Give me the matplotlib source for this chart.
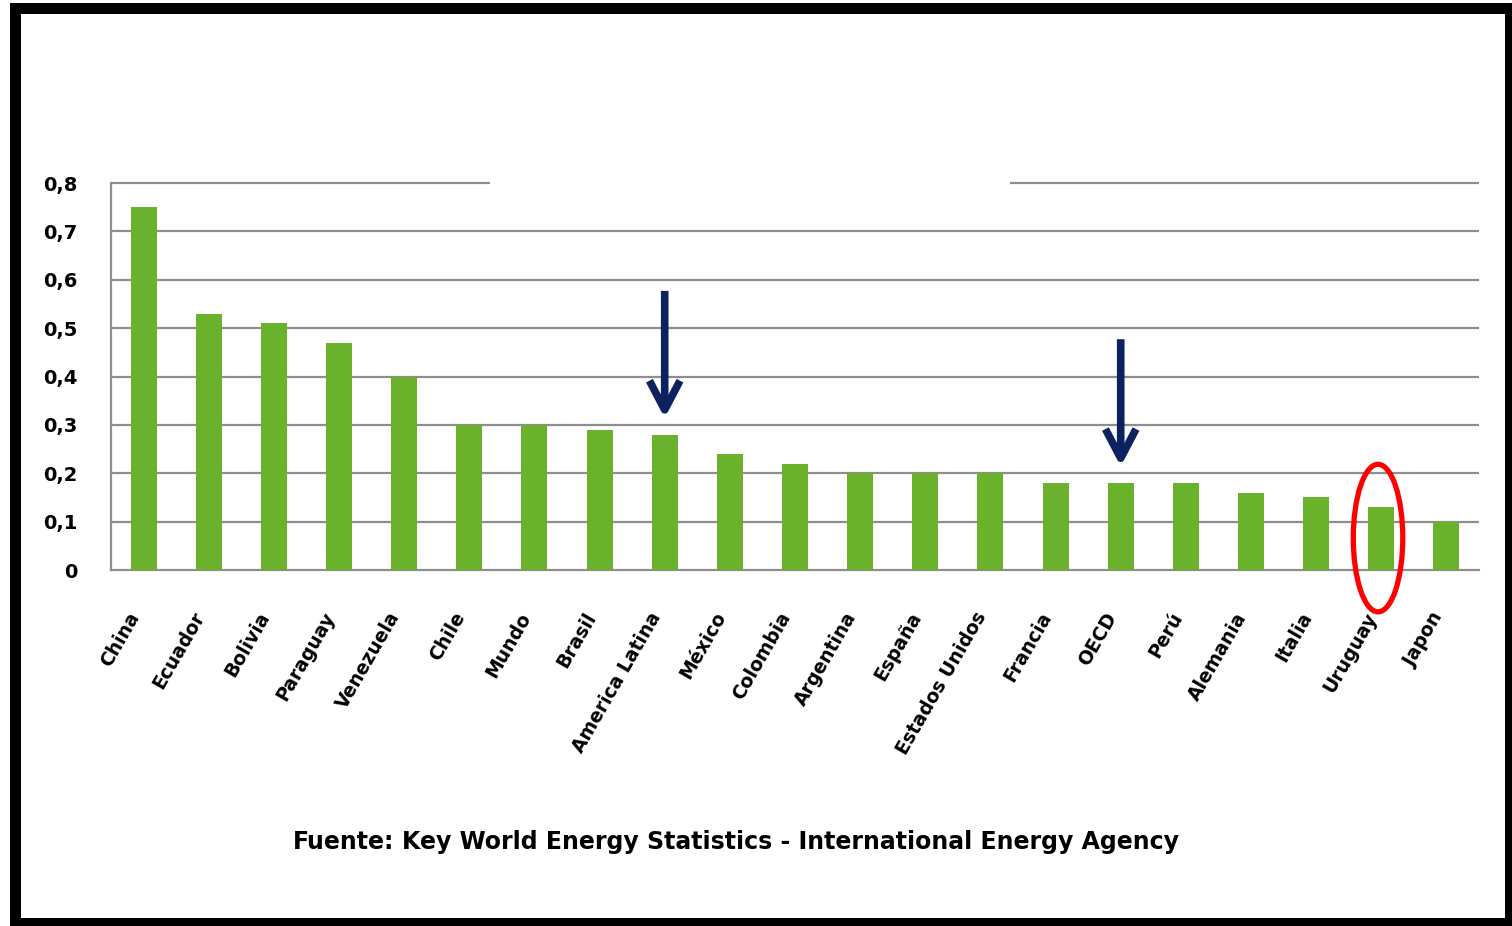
import matplotlib

matplotlib.use('Agg')
import matplotlib.pyplot as plt
import matplotlib.ticker as mticker
from matplotlib.patches import Ellipse, Rectangle

# --- Datos ---
paises = ["China", "Ecuador", "Bolivia", "Paraguay", "Venezuela", "Chile", "Mundo",
          "Brasil", "America Latina", "México", "Colombia", "Argentina", "España",
          "Estados Unidos", "Francia", "OECD", "Perú", "Alemania", "Italia",
          "Uruguay", "Japon"]
valores = [0.75, 0.53, 0.51, 0.47, 0.40, 0.30, 0.30, 0.29, 0.28, 0.24, 0.22,
           0.20, 0.20, 0.20, 0.18, 0.18, 0.18, 0.16, 0.15, 0.13, 0.10]
y_ticks = [0, 0.1, 0.2, 0.3, 0.4, 0.5, 0.6, 0.7, 0.8]
fuente = "Key World Energy Statistics - International Energy Agency"

# países señalados
flechas = ["America Latina", "OECD"]
resaltado = "Uruguay"

# --- Estilo ---
VERDE = "#6ab22b"
GRIS = "#8e8e8e"
AZUL = "#0b2160"
ROJO = "#ff0000"

fig = plt.figure(figsize=(15.12, 9.26), dpi=100)
W, H = 1512, 926

# marco negro
fig.patches.append(Rectangle((10 / W, 0), 1 - 10 / W, 1 - 3 / H, transform=fig.transFigure,
                             facecolor="black", edgecolor="none", zorder=-2))
fig.patches.append(Rectangle((21 / W, 8 / H), (1505 - 21) / W, (918 - 14) / H,
                             transform=fig.transFigure, facecolor="white",
                             edgecolor="none", zorder=-1))

ax = fig.add_axes([111 / W, 1 - 570 / H, 1368 / W, (570 - 183) / H])
ax.set_facecolor("none")

x = list(range(len(paises)))
ax.bar(x, valores, width=0.4, color=VERDE, zorder=3)

ax.set_xlim(-0.5, len(paises) - 0.5)
ax.set_ylim(0, 0.8)

# líneas de cuadrícula (la superior queda cortada en el centro)
for y in y_ticks[1:-1]:
    ax.hlines(y, -0.5, len(paises) - 0.5, color=GRIS, lw=1.6, zorder=1)
ax.hlines(0.8, -0.5, 5.32, color=GRIS, lw=1.6, zorder=1, clip_on=False)
ax.hlines(0.8, 13.3, len(paises) - 0.5, color=GRIS, lw=1.6, zorder=1, clip_on=False)

for s in ["top", "right"]:
    ax.spines[s].set_visible(False)
for s in ["left", "bottom"]:
    ax.spines[s].set_color(GRIS)
    ax.spines[s].set_linewidth(1.6)

ax.set_yticks(y_ticks)
ax.yaxis.set_major_formatter(mticker.FuncFormatter(
    lambda v, p: "0" if v == 0 else f"{v:.1f}".replace(".", ",")))
ax.tick_params(axis="y", length=0, pad=24, labelsize=14)
for t in ax.get_yticklabels():
    t.set_fontweight("bold")

ax.set_xticks(x)
ax.set_xticklabels(paises, rotation=60, ha="right", va="top", fontsize=13.5,
                   fontweight="bold")
ax.tick_params(axis="x", length=0, pad=28)

# flechas sobre los valores destacados
for nombre in flechas:
    i = paises.index(nombre)
    v = valores[i]
    ax.annotate("", xy=(i, v + 0.034), xytext=(i, v + 0.297),
                arrowprops=dict(arrowstyle="->,head_length=1.05,head_width=0.55",
                                mutation_scale=20, color=AZUL, lw=5.5,
                                shrinkA=0, shrinkB=0, capstyle="butt"),
                zorder=5)

# elipse en Uruguay
iu = paises.index(resaltado)
ax.add_patch(Ellipse((iu - 0.05, 0.066), 0.76, 0.305, facecolor="none",
                     edgecolor=ROJO, lw=3.8, zorder=6, clip_on=False))

# fuente
t1 = fig.text(293 / W, 1 - 842 / H, "Fuente:", fontsize=17, fontweight="heavy",
              ha="left", va="center")
r = fig.canvas.get_renderer()
x_fin = t1.get_window_extent(r).x1
fig.text(x_fin / W + 8 / W, 1 - 842 / H, fuente, fontsize=17, fontweight="bold",
         ha="left", va="center")

fig.savefig("out.png", dpi=100)
